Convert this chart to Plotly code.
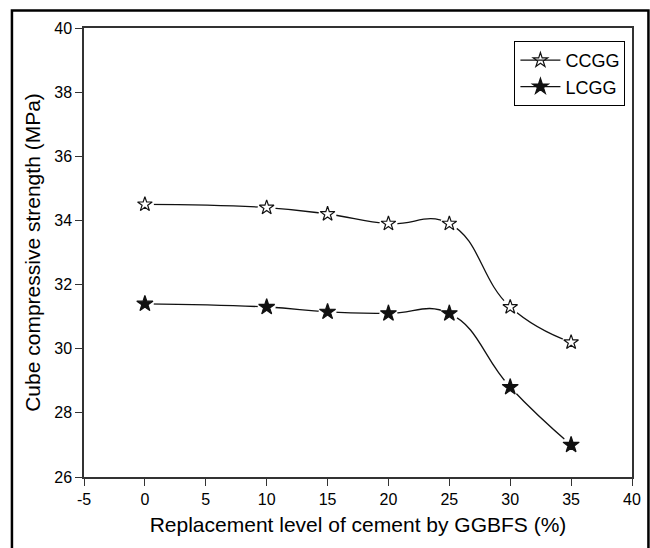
import plotly.graph_objects as go

# Replacement level of cement by GGBFS (%)
replacement = [0, 10, 15, 20, 25, 30, 35]
# Cube compressive strength (MPa)
ccgg = [34.5, 34.4, 34.2, 33.9, 33.9, 31.3, 30.2]
lcgg = [31.4, 31.3, 31.15, 31.1, 31.1, 28.8, 27.0]

# axis tick positions and labels (plain hyphen for negatives)
x_ticks = [-5, 0, 5, 10, 15, 20, 25, 30, 35, 40]
x_labels = ["-5", "0", "5", "10", "15", "20", "25", "30", "35", "40"]
y_ticks = [26, 28, 30, 32, 34, 36, 38, 40]
y_labels = ["26", "28", "30", "32", "34", "36", "38", "40"]

FONT = "Liberation Sans, Arial, sans-serif"
INK = "#111111"

fig = go.Figure()


def add_series(name, values, symbol, size):
    # smooth connecting curve with the legend entry
    fig.add_trace(go.Scatter(
        x=replacement, y=values, name=name, mode="lines+markers",
        line=dict(color=INK, width=1.3, shape="spline", smoothing=1.3),
        marker=dict(symbol=symbol, size=size, color=INK, line=dict(color=INK, width=1.2)),
    ))
    # white halo so the curve stops short of each marker
    fig.add_trace(go.Scatter(
        x=replacement, y=values, mode="markers", showlegend=False, hoverinfo="skip",
        marker=dict(symbol="circle", size=18, color="white", line=dict(width=0)),
    ))
    fig.add_trace(go.Scatter(
        x=replacement, y=values, mode="markers", showlegend=False, name=name,
        marker=dict(symbol=symbol, size=size, color=INK, line=dict(color=INK, width=1.2)),
    ))


add_series("CCGG", ccgg, "star-open", 11)
add_series("LCGG", lcgg, "star", 12)

axis_common = dict(
    showline=True, linecolor="#333333", linewidth=1.5, mirror=True,
    ticks="outside", ticklen=7, tickwidth=1.3, tickcolor="#333333",
    showgrid=False, zeroline=False,
    tickfont=dict(family=FONT, size=16, color="black"),
)

fig.update_xaxes(
    range=[-5, 40], tickmode="array", tickvals=x_ticks, ticktext=x_labels,
    title=dict(text="Replacement level of cement by GGBFS (%)",
               font=dict(family=FONT, size=21, color="black"), standoff=10),
    **axis_common,
)
fig.update_yaxes(
    range=[26, 40], tickmode="array", tickvals=y_ticks, ticktext=y_labels,
    title=dict(text="Cube compressive strength (MPa)",
               font=dict(family=FONT, size=21, color="black"), standoff=8),
    **axis_common,
)

# outer frame around the whole figure
fig.add_shape(type="rect", xref="paper", yref="paper",
              x0=-0.1315, y0=-0.17, x1=1.03, y1=1.039,
              line=dict(color="black", width=2.5), layer="above")

fig.update_layout(
    width=650, height=548,
    margin=dict(l=84, r=9, t=28, b=71),
    paper_bgcolor="white", plot_bgcolor="white",
    font=dict(family=FONT, color="black"),
    legend=dict(
        x=0.988, y=0.971, xanchor="right", yanchor="top",
        bgcolor="white", bordercolor="black", borderwidth=1,
        font=dict(family=FONT, size=18, color="black"),
        itemwidth=40, tracegroupgap=0,
    ),
    showlegend=True,
)

fig.write_html("out.html")
